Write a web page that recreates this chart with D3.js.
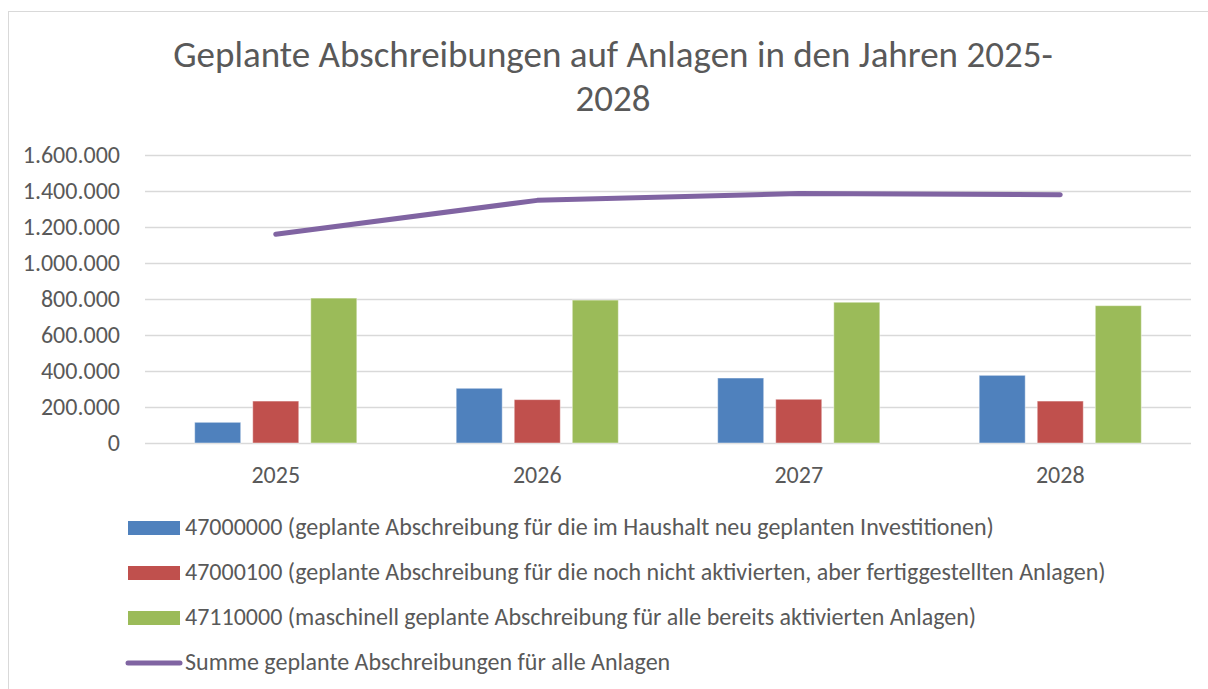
<!DOCTYPE html>
<html>
<head>
<meta charset="utf-8">
<script src="https://cdn.jsdelivr.net/npm/d3@7"></script>
<style>
  body { margin: 0; background: #fff; }
  svg text { font-family: Carlito, Lato, sans-serif; fill: #595959; }
</style>
</head>
<body>
<script>
// Geplante Abschreibungen 2025-2028 (Balken + Summenlinie)

var years = ["2025", "2026", "2027", "2028"];
var seriesNames = [
  "47000000 (geplante Abschreibung für die im Haushalt neu geplanten Investitionen)",
  "47000100 (geplante Abschreibung für die noch nicht aktivierten, aber fertiggestellten Anlagen)",
  "47110000 (maschinell geplante Abschreibung für alle bereits aktivierten Anlagen)"
];
var neuInvest = [115000, 304000, 361000, 376000];
var nichtAktiviert = [233000, 241000, 243000, 233000];
var aktiviert = [805000, 794000, 782000, 763000];
var lineName = "Summe geplante Abschreibungen für alle Anlagen";
var summe = [1160000, 1348000, 1386000, 1379000];
var yTicks = [0, 200000, 400000, 600000, 800000, 1000000, 1200000, 1400000, 1600000];
var colors = ["#4F81BD", "#C0504D", "#9BBB59"];
var lineColor = "#8064A2";

var barSeries = [neuInvest, nichtAktiviert, aktiviert];

var W = 1208, H = 689;
var plot = {left: 145, right: 1191, top: 155, bottom: 443};

var svg = d3.select("body").append("svg")
    .attr("width", W)
    .attr("height", H);

// chart frame
svg.append("rect")
    .attr("x", 8.5).attr("y", 11.5)
    .attr("width", W + 10).attr("height", H + 10)
    .attr("fill", "#fff")
    .attr("stroke", "#d9d9d9");

// title
var title = svg.append("text")
    .attr("text-anchor", "middle")
    .attr("font-size", "37px");
title.append("tspan").attr("x", 613).attr("y", 67)
    .text("Geplante Abschreibungen auf Anlagen in den Jahren 2025-");
title.append("tspan").attr("x", 613).attr("y", 111)
    .text("2028");

var x0 = d3.scaleBand()
    .domain(years)
    .range([plot.left, plot.right])
    .paddingInner(0.38)
    .paddingOuter(0.19);

var x1 = d3.scaleBand()
    .domain(d3.range(barSeries.length))
    .range([0, x0.bandwidth()])
    .paddingInner(0.207);

var y = d3.scaleLinear()
    .domain([0, 1600000])
    .range([plot.bottom, plot.top]);

// gridlines + y labels
var fmt = function(v) { return d3.format(",")(v).replace(/,/g, "."); };
var yAxis = d3.axisLeft(y)
    .tickValues(yTicks)
    .tickSize(-(plot.right - plot.left))
    .tickPadding(25)
    .tickFormat(fmt);

var gy = svg.append("g")
    .attr("transform", "translate(" + plot.left + ",0)")
    .call(yAxis);
gy.select(".domain").remove();
gy.selectAll(".tick line").attr("stroke", "#d9d9d9").attr("stroke-width", 1.5);
gy.selectAll(".tick text")
    .attr("font-size", "24px")
    .attr("fill", "#595959")
    .attr("font-family", "Carlito, Lato, sans-serif");

// x labels
var xAxis = d3.axisBottom(x0).tickSize(0).tickPadding(23);
var gx = svg.append("g")
    .attr("transform", "translate(0," + plot.bottom + ")")
    .call(xAxis);
gx.select(".domain").remove();
gx.selectAll(".tick text")
    .attr("font-size", "24px")
    .attr("fill", "#595959")
    .attr("font-family", "Carlito, Lato, sans-serif");

// bars
var groups = svg.selectAll(".year")
    .data(years)
    .enter()
  .append("g")
    .attr("class", "year")
    .attr("transform", function(d) { return "translate(" + x0(d) + ",0)"; });

groups.selectAll("rect")
    .data(function(d, i) { return barSeries.map(function(s, k) { return {k: k, v: s[i]}; }); })
    .enter()
  .append("rect")
    .attr("x", function(d) { return x1(d.k); })
    .attr("y", function(d) { return y(d.v); })
    .attr("width", x1.bandwidth())
    .attr("height", function(d) { return y(0) - y(d.v); })
    .attr("fill", function(d) { return colors[d.k]; })
    .attr("stroke", "rgba(255,255,255,0.45)")
    .attr("stroke-width", 1);

// sum line
var line = d3.line()
    .x(function(d, i) { return x0(years[i]) + x0.bandwidth() / 2; })
    .y(function(d) { return y(d); });

svg.append("path")
    .datum(summe)
    .attr("d", line)
    .attr("fill", "none")
    .attr("stroke", lineColor)
    .attr("stroke-width", 5)
    .attr("stroke-linecap", "round")
    .attr("stroke-linejoin", "round");

// legend
var legendY = [528, 573, 618, 663];
var legend = svg.append("g");
seriesNames.forEach(function(name, k) {
  legend.append("rect")
      .attr("x", 128).attr("y", legendY[k] - 7)
      .attr("width", 52).attr("height", 14)
      .attr("fill", colors[k]);
  legend.append("text")
      .attr("x", 185).attr("y", legendY[k] - 1.5)
      .attr("dy", "0.35em")
      .attr("font-size", "24px")
      .text(name);
});
legend.append("line")
    .attr("x1", 128).attr("x2", 180)
    .attr("y1", legendY[3]).attr("y2", legendY[3])
    .attr("stroke", lineColor)
    .attr("stroke-width", 5)
    .attr("stroke-linecap", "round");
legend.append("text")
    .attr("x", 185).attr("y", legendY[3] - 1.5)
    .attr("dy", "0.35em")
    .attr("font-size", "24px")
    .text(lineName);
</script>
</body>
</html>
